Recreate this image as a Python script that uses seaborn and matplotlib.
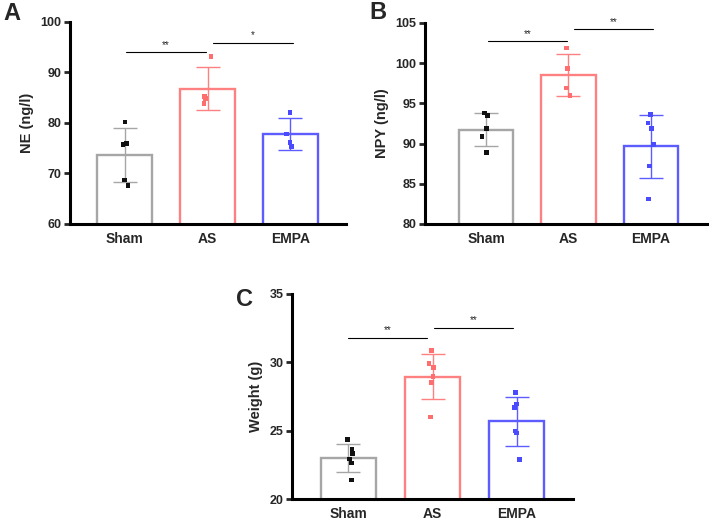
import numpy as np
import pandas as pd
import matplotlib
matplotlib.use('Agg')
import matplotlib.pyplot as plt
import seaborn as sns

groups = ['Sham', 'AS', 'EMPA']
bar_colors = ['#a6a6a6', '#ff8080', '#5c5cff']
dot_colors = ['#111111', '#ff6e6e', '#4a4aff']

# panel A: NE (ng/l)
ne_mean = [73.7, 86.8, 77.8]
ne_sd = [5.4, 4.2, 3.1]
ne_sham = [80.2, 76.0, 75.8, 68.7, 67.6]
ne_as = [93.1, 85.3, 84.8, 83.8]
ne_empa = [82.1, 77.8, 76.1, 75.3]

# panel B: NPY (ng/l)
npy_mean = [91.75, 98.5, 89.65]
npy_sd = [2.0, 2.6, 3.95]
npy_sham = [93.8, 93.5, 91.9, 90.9, 88.9]
npy_as = [101.9, 99.3, 96.9, 96.0]
npy_empa = [93.6, 92.55, 91.9, 89.85, 87.2, 83.1]

# panel C: Weight (g)
wt_mean = [23.0, 28.95, 25.7]
wt_sd = [1.05, 1.65, 1.8]
wt_sham = [24.37, 23.6, 23.34, 22.93, 22.63, 21.4]
wt_as = [30.85, 29.9, 29.63, 28.98, 28.5, 26.0]
wt_empa = [27.8, 26.95, 26.7, 24.98, 24.83, 22.9]

# significance brackets: (x0, x1, height, label)
ne_sig = [(0.02, 0.98, 94.0, '**'), (1.07, 2.03, 95.9, '*')]
npy_sig = [(0.02, 0.98, 102.7, '**'), (1.07, 2.03, 104.2, '**')]
wt_sig = [(0.0, 0.94, 31.8, '**'), (1.02, 1.96, 32.54, '**')]

sns.set_style('white')
plt.rcParams['font.family'] = ['Liberation Sans', 'DejaVu Sans']
plt.rcParams['font.weight'] = 'bold'
np.random.seed(3)  # only for the small horizontal jitter of the dots

W, H = 709, 521
fig = plt.figure(figsize=(W / 100, H / 100), dpi=100)


def add_ax(left, top, right, bottom):
    return fig.add_axes([left / W, 1 - bottom / H, (right - left) / W, (bottom - top) / H])


def panel(ax, means, sds, points, sig, ylim, yticks, ylabel, xlim, letter, letter_xy):
    df = pd.DataFrame({
        'group': sum([[g] * len(p) for g, p in zip(groups, points)], []),
        'value': sum([list(p) for p in points], []),
    })
    sns.barplot(x=groups, y=means, hue=groups, palette=bar_colors, fill=False,
                linewidth=1.7, width=0.66, errorbar=None, legend=False, ax=ax)
    for i in range(3):
        ax.errorbar(i, means[i], yerr=sds[i], fmt='none', ecolor=bar_colors[i],
                    elinewidth=1.0, capsize=8.3, capthick=1.0, zorder=3)
    sns.stripplot(data=df, x='group', y='value', hue='group', order=groups,
                  palette=dot_colors, marker='s', size=3.4, jitter=0.05,
                  legend=False, ax=ax, zorder=4)
    for x0, x1, h, lab in sig:
        ax.plot([x0, x1], [h, h], color='black', lw=0.8, clip_on=False)
        ax.text((x0 + x1) / 2, h + (ylim[1] - ylim[0]) * 0.012, lab, ha='center',
                va='bottom', fontsize=7, fontweight='normal', clip_on=False)
    ax.set_ylim(*ylim)
    ax.set_xlim(*xlim)
    ax.set_yticks(yticks)
    ax.set_ylabel(ylabel, fontsize=10.5, fontweight='bold', labelpad=5)
    ax.set_xlabel('')
    for s in ['top', 'right']:
        ax.spines[s].set_visible(False)
    for s in ['left', 'bottom']:
        ax.spines[s].set_linewidth(2.2)
        ax.spines[s].set_color('black')
    ax.tick_params(axis='y', length=4, width=2.0, labelsize=9, pad=2, left=True)
    ax.tick_params(axis='x', length=0, labelsize=10, pad=6)
    for t in ax.get_xticklabels() + ax.get_yticklabels():
        t.set_fontweight('bold')
    fig.text(letter_xy[0] / W, 1 - letter_xy[1] / H, letter, fontsize=17,
             fontweight='bold', ha='left', va='top')


axA = add_ax(70, 22, 346, 224)
panel(axA, ne_mean, ne_sd, [ne_sham, ne_as, ne_empa], ne_sig, (60, 100),
      [60, 70, 80, 90, 100], 'NE (ng/l)', (-0.66, 2.67), 'A', (3, 2))

axB = add_ax(425, 23, 707, 224)
panel(axB, npy_mean, npy_sd, [npy_sham, npy_as, npy_empa], npy_sig, (80, 105),
      [80, 85, 90, 95, 100, 105], 'NPY (ng/l)', (-0.74, 2.68), 'B', (369, 1))

axC = add_ax(292, 294, 573, 499)
panel(axC, wt_mean, wt_sd, [wt_sham, wt_as, wt_empa], wt_sig, (20, 35),
      [20, 25, 30, 35], 'Weight (g)', (-0.67, 2.67), 'C', (236, 288))

fig.savefig('out.png', dpi=100, facecolor='white')
